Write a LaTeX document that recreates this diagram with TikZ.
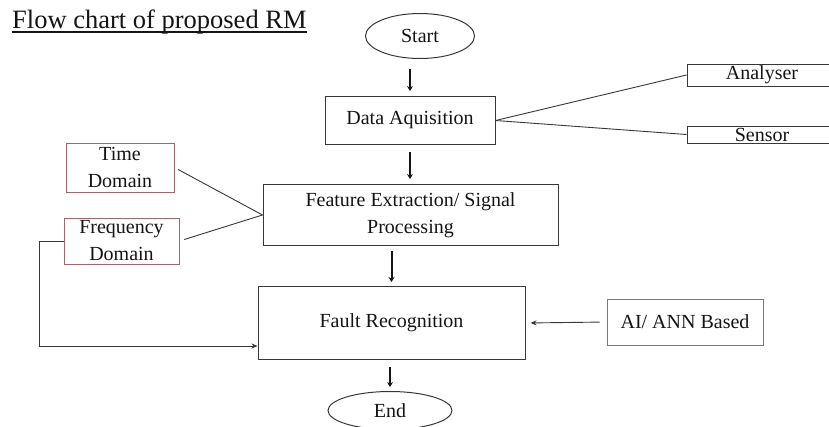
\documentclass[tikz,border=0pt]{standalone}
\usepackage{fontspec}
\setmainfont{Liberation Serif}
\usepackage{xcolor}
\usepackage{tikz}
\usetikzlibrary{shapes,arrows.meta,positioning,calc}

\definecolor{boxline}{RGB}{55,55,55}
\definecolor{sidebox}{RGB}{155,105,105}
\definecolor{inktext}{RGB}{20,20,20}

\begin{document}
\begin{tikzpicture}[
    x=1pt, y=-1pt,
    every node/.style={text=inktext, font=\fontsize{20}{27}\selectfont},
    terminal/.style={ellipse, draw=boxline, line width=1pt, inner sep=0pt},
    process/.style={rectangle, draw=boxline, line width=1pt, align=center, inner sep=0pt},
    source/.style={rectangle, draw=sidebox, line width=0.9pt, align=center, inner sep=0pt},
    flow/.style={line width=2pt, draw=inktext, -{Stealth[length=5pt,width=6pt]}},
    link/.style={line width=0.9pt, draw=boxline}
]
\useasboundingbox (0,0) rectangle (829,426);

% Title
\node[anchor=base west, inner sep=0pt, font=\fontsize{26.5}{30}\selectfont] (title) at (12,28) {Flow chart of proposed RM};
\draw[line width=1.1pt, inktext] ([yshift=-4pt]title.base west) -- ([yshift=-4pt]title.base east);

% Main column
\node[terminal, minimum width=109, minimum height=45] (start) at (420,36) {Start};
\node[process, minimum width=170, minimum height=48, below=37pt of start, xshift=-10pt] (acq) {Data Aquisition};
\node[process, minimum width=295, minimum height=61, below=39pt of acq, xshift=0.5pt] (feat) {Feature Extraction/ Signal\\Processing};
\node[process, minimum width=267, minimum height=73, below=40pt of feat, xshift=-19pt] (fault) {Fault Recognition};
\node[terminal, minimum width=124, minimum height=38, below=31pt of fault, xshift=-1.5pt] (fin) {End};

% Side inputs
\node[process, minimum width=150, minimum height=22] (analyser) at (762,75) {Analyser};
\node[process, minimum width=150, minimum height=17] (sensor) at (762,134.5) {Sensor};
\node[source, minimum width=108, minimum height=49] (time) at (120,167.5) {Time\\Domain};
\node[source, minimum width=115, minimum height=46] (freq) at (121.5,241) {Frequency\\Domain};
\node[source, minimum width=156, minimum height=46] (ai) at (685,322) {AI/ ANN Based};

% Flow arrows
\draw[flow, shorten <=10pt, shorten >=5pt] (acq.north |- start.south) -- (acq.north);
\draw[flow, shorten <=7pt, shorten >=5pt] (acq.south) -- (acq.south |- feat.north);
\draw[flow, shorten <=5pt, shorten >=4pt] (fault.north |- feat.south) -- (fault.north);
\draw[flow, shorten <=7pt, shorten >=4pt] (fin.north |- fault.south) -- (fin.north);

% Connections
\draw[link] (acq.east) -- (analyser.west);
\draw[link] (acq.east) -- (sensor.west);
\draw[link, shorten <=4pt] (time.east) -- (feat.west);
\draw[link, shorten <=5pt] (freq.east) -- (feat.west);
\draw[link, -{Stealth[length=6pt,width=5pt]}] (freq.west) -- ++(-24,0) |- ([yshift=14pt]fault.south west);
\draw[link, -{Stealth[length=6pt,width=5pt]}, shorten <=7pt, shorten >=5pt] (ai.west) -- (fault.east);

\end{tikzpicture}
\end{document}
